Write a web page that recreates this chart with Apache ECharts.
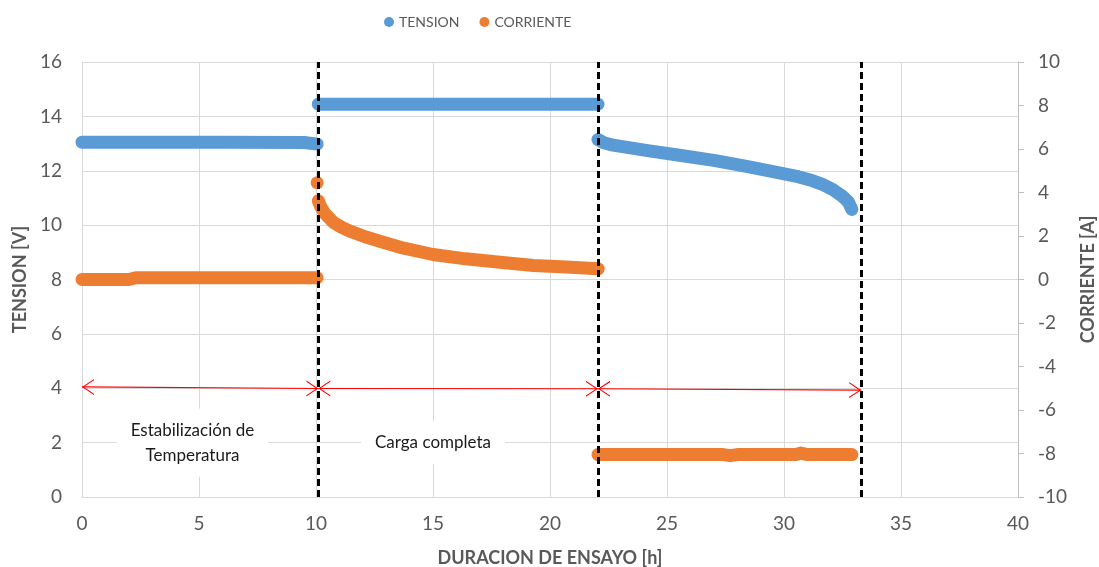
<!DOCTYPE html>
<html>
<head>
<meta charset="utf-8">
<script src="https://cdn.jsdelivr.net/npm/echarts@6/dist/echarts.min.js"></script>
<style>
html,body{margin:0;padding:0;background:#fff;}
#chart{width:1099px;height:567px;}
</style>
</head>
<body>
<div id="chart"></div>
<script>
// ---- data ----
const seriesNames = ['TENSION', 'CORRIENTE'];
const tensionEstabilizacion = [[0,13.05],[3,13.05],[6,13.05],[9.5,13.04],[10.05,12.98]];
const tensionCarga = [[10.1,14.45],[22.05,14.45]];
const tensionDescarga = [[22.05,13.15],[22.3,13.03],[22.7,12.94],[24.1,12.75],[25.6,12.56],[27,12.38],[28.4,12.16],[29.8,11.92],[30.6,11.78],[31.2,11.64],[31.7,11.48],[32.1,11.3],[32.5,11.06],[32.75,10.85],[32.9,10.58]];
const corrienteEstabilizacion = [[0,0],[2,0],[2.3,0.08],[10.05,0.08]];
const corrientePico = [[10.05,4.45]];
const corrienteCarga = [[10.1,3.62],[10.2,3.35],[10.38,3.03],[10.74,2.63],[11.1,2.4],[11.45,2.22],[12.17,1.94],[12.9,1.7],[13.6,1.48],[15,1.15],[16.4,0.95],[17.86,0.79],[19.3,0.64],[20.7,0.58],[22.06,0.49]];
const corrienteDescarga = [[22.05,-8.05],[27.4,-8.05],[27.7,-8.1],[28,-8.05],[30.5,-8.05],[30.7,-7.98],[31,-8.05],[32.9,-8.05]];
const phaseBoundaries = [10.1, 22.05, 33.3];
const phaseArrows = [[0,4.05,10.1,3.99],[10.1,3.99,22.05,3.98],[22.05,3.98,33.3,3.93]];
const phaseLabels = ['Estabilización de\nTemperatura', 'Carga completa'];
const phaseLabelAt = [[4.72,2.0],[15,2.0]];
const xAxisName = 'DURACION DE ENSAYO [h]';
const yLeftName = 'TENSION [V]';
const yRightName = 'CORRIENTE [A]';

// ---- styles ----
const BLUE = '#5b9bd5', ORANGE = '#ed7d31', GREY = '#595959', GRID = '#d9d9d9';
const FONT = 'Lato';
const arrowHead = 'path://M10,0 L20,12 L18.4,12 L10,1.9 L1.6,12 L0,12 Z';

function band(name, data, yAxisIndex, color) {
  return {
    type: 'line', name, data, yAxisIndex, showSymbol: false, symbol: 'circle',
    lineStyle: { width: 13, color, cap: 'round', join: 'round' },
    itemStyle: { color }, silent: true, animation: false, z: 2
  };
}

const arrowEnd = (x, y) => ({
  coord: [x, y], symbol: arrowHead, symbolSize: [16, 12], symbolOffset: [0, 6]
});

const series = [
  band(seriesNames[0], tensionEstabilizacion, 0, BLUE),
  band(seriesNames[0], tensionCarga, 0, BLUE),
  band(seriesNames[0], tensionDescarga, 0, BLUE),
  band(seriesNames[1], corrienteEstabilizacion, 1, ORANGE),
  {
    type: 'scatter', name: seriesNames[1], data: corrientePico, yAxisIndex: 1,
    symbol: 'circle', symbolSize: 13, itemStyle: { color: ORANGE, opacity: 1 },
    silent: true, animation: false, z: 2
  },
  band(seriesNames[1], corrienteCarga, 1, ORANGE),
  band(seriesNames[1], corrienteDescarga, 1, ORANGE),
  {
    type: 'line', name: 'fases', data: [], yAxisIndex: 0, silent: true, animation: false, z: 5,
    itemStyle: { color: '#000' }, lineStyle: { color: '#000' },
    markLine: {
      silent: true, animation: false, symbol: ['none', 'none'],
      lineStyle: { color: '#000', width: 3, type: [7, 4] },
      data: phaseBoundaries.map(x => [{ coord: [x, 0] }, { coord: [x, 16] }]),
      label: { show: false },
      emphasis: { disabled: true }
    }
  },
  {
    type: 'line', name: 'flechas', data: [], yAxisIndex: 0, silent: true, animation: false, z: 4,
    itemStyle: { color: '#ff0000' }, lineStyle: { color: '#ff0000' },
    markLine: {
      silent: true, animation: false,
      itemStyle: { color: '#ff0000' },
      lineStyle: { color: '#ff0000', width: 1.1, type: 'solid', opacity: 1 },
      data: phaseArrows.map(a => [arrowEnd(a[0], a[1]), arrowEnd(a[2], a[3])]),
      label: { show: false },
      emphasis: { disabled: true }
    },
    markPoint: {
      silent: true, animation: false,
      symbol: 'rect', symbolSize: 1, itemStyle: { color: 'rgba(0,0,0,0)' },
      data: phaseLabels.map((t, i) => ({ coord: phaseLabelAt[i], value: t })),
      label: {
        show: true, position: 'inside', formatter: p => p.value,
        color: '#1a1a1a', fontFamily: FONT, fontSize: 17, lineHeight: 25,
        backgroundColor: '#fff', padding: [9, 14], align: 'center', verticalAlign: 'middle'
      }
    }
  }
];

const option = {
  animation: false,
  backgroundColor: '#fff',
  textStyle: { fontFamily: FONT },
  legend: {
    data: seriesNames, top: 10, left: 379, icon: 'circle', itemWidth: 10, itemHeight: 10, itemGap: 20,
    textStyle: { color: GREY, fontSize: 14, fontFamily: FONT }
  },
  grid: { left: 82, right: 81, top: 62, bottom: 70, containLabel: false, outerBoundsMode: 'none' },
  xAxis: {
    type: 'value', min: 0, max: 40, interval: 5,
    name: xAxisName, nameLocation: 'middle', nameGap: 52,
    nameTextStyle: { color: GREY, fontSize: 18, fontWeight: 'bold', fontFamily: FONT },
    axisLine: { show: true, lineStyle: { color: GRID } },
    axisTick: { show: false },
    axisLabel: { color: GREY, fontSize: 19, margin: 17, fontFamily: FONT },
    splitLine: { show: true, lineStyle: { color: GRID, width: 1 } }
  },
  yAxis: [
    {
      type: 'value', min: 0, max: 16, interval: 2, position: 'left',
      name: yLeftName, nameLocation: 'middle', nameGap: 53,
      nameTextStyle: { color: GREY, fontSize: 18, fontWeight: 'bold', fontFamily: FONT },
      axisLine: { show: true, lineStyle: { color: GRID } },
      axisTick: { show: false },
      axisLabel: { color: GREY, fontSize: 19, margin: 20, fontFamily: FONT },
      splitLine: { show: true, lineStyle: { color: GRID, width: 1 } }
    },
    {
      type: 'value', min: -10, max: 10, interval: 2, position: 'right',
      name: yRightName, nameLocation: 'middle', nameGap: 61,
      nameTextStyle: { color: GREY, fontSize: 18, fontWeight: 'bold', fontFamily: FONT },
      axisLine: { show: true, lineStyle: { color: '#bfbfbf' } },
      axisTick: { show: true, length: 6, lineStyle: { color: '#bfbfbf' } },
      axisLabel: { color: GREY, fontSize: 19, margin: 20, fontFamily: FONT },
      splitLine: { show: false }
    }
  ],
  series
};

const chart = echarts.init(document.getElementById('chart'), null, { renderer: 'canvas' });
chart.setOption(option);
</script>
</body>
</html>
